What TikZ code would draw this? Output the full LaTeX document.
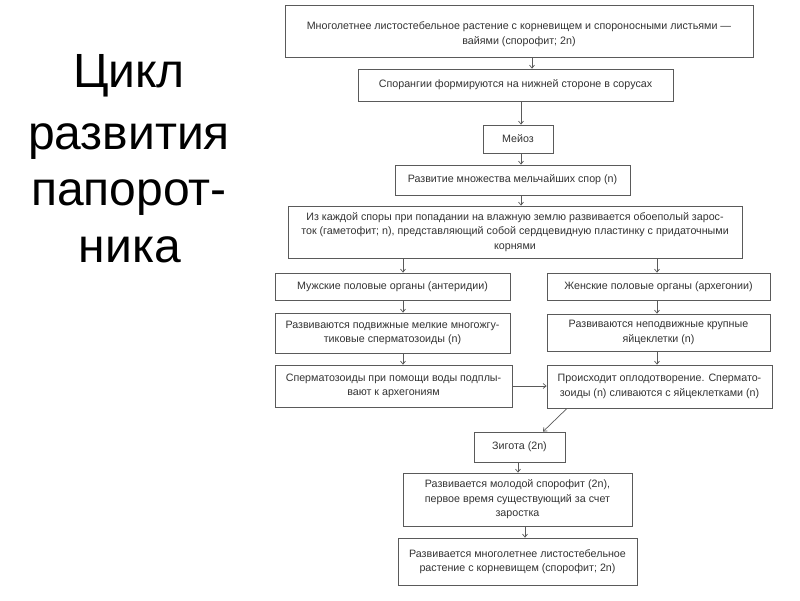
\documentclass[tikz,border=0pt]{standalone}
\usepackage{fontspec}
\setmainfont{Liberation Sans}
\usetikzlibrary{arrows.meta}
\definecolor{linegray}{HTML}{5A5A5A}
\definecolor{txtgray}{HTML}{333333}
\begin{document}
\begin{tikzpicture}[x=1pt,y=-1pt,
  box/.style={draw=linegray,line width=0.8pt,fill=white,inner sep=0pt,align=center,
    text=txtgray,font=\fontsize{10.7}{14.5}\selectfont},
  arr/.style={draw=linegray,line width=0.7pt,-{Straight Barb[length=3pt,width=5pt]}},
  title/.style={anchor=base,font=\fontsize{48}{58}\selectfont,text=black,inner sep=0pt}]
\fill[white] (0,0) rectangle (800,600);
\useasboundingbox (0,0) rectangle (800,600);
% title
\node[title] (t1) at (129,87) {Цикл};
\node[title] (t2) at (129,149) {развития};
\node[title] (t3) at (129,205) {папорот-};
\node[title] (t4) at (130,262) {ника};
% boxes
\node[box,minimum width=468,minimum height=52] (b1) at (519,31) {\rule{0pt}{14pt}Многолетнее листостебельное растение с корневищем и спороносными листьями —\\вайями (спорофит; 2n)};
\node[box,minimum width=315,minimum height=32] (b2) at (515.5,85) {Спорангии формируются на нижней стороне в сорусах};
\node[box,minimum width=70,minimum height=28] (b3) at (518,139) {Мейоз};
\node[box,minimum width=235,minimum height=30] (b4) at (512.5,180) {Развитие множества мельчайших спор (n)};
\node[box,minimum width=454,minimum height=52] (b5) at (515,232) {Из каждой споры при попадании на влажную землю развивается обоеполый зарос-\\ток (гаметофит; n), представляющий собой сердцевидную пластинку с придаточными\\корнями};
\node[box,minimum width=235,minimum height=27] (m1) at (392.5,286.5) {Мужские половые органы (антеридии)};
\node[box,minimum width=223,minimum height=27] (f1) at (658.5,286.5) {Женские половые органы (архегонии)};
\node[box,minimum width=235,minimum height=40] (m2) at (392.5,333) {Развиваются подвижные мелкие многожгу-\\тиковые сперматозоиды (n)};
\node[box,minimum width=223,minimum height=37] (f2) at (658.5,332.5) {Развиваются неподвижные крупные\\яйцеклетки (n)};
\node[box,minimum width=237,minimum height=42] (m3) at (393.5,386) {Сперматозоиды при помощи воды подплы-\\вают к архегониям};
\node[box,minimum width=225,minimum height=43] (f3) at (659.5,386.5) {Происходит оплодотворение. Спермато-\\зоиды (n) сливаются с яйцеклетками (n)};
\node[box,minimum width=91,minimum height=30] (z) at (519.5,447) {Зигота (2n)};
\node[box,minimum width=229,minimum height=53] (s1) at (517.5,499.5) {Развивается молодой спорофит (2n),\\первое время существующий за счет\\заростка};
\node[box,minimum width=239,minimum height=47] (s2) at (517.5,561.5) {Развивается многолетнее листостебельное\\растение с корневищем (спорофит; 2n)};
% connectors
\draw[arr] (b1.south -| 532,0) -- (b2.north -| 532,0);
\draw[arr] (b2.south -| 521,0) -- (b3.north -| 521,0);
\draw[arr] (b3.south -| 521,0) -- (b4.north -| 521,0);
\draw[arr] (b4.south -| 521,0) -- (b5.north -| 521,0);
\draw[arr] (b5.south -| 403,0) -- (m1.north -| 403,0);
\draw[arr] (b5.south -| 657,0) -- (f1.north -| 657,0);
\draw[arr] (m1.south -| 403,0) -- (m2.north -| 403,0);
\draw[arr] (f1.south -| 657,0) -- (f2.north -| 657,0);
\draw[arr] (m2.south -| 403,0) -- (m3.north -| 403,0);
\draw[arr] (f2.south -| 657,0) -- (f3.north -| 657,0);
\draw[arr] (m3.east |- 0,386) -- (f3.west |- 0,386);
\draw[arr] (f3.south -| 567,0) -- (z.north -| 543,0);
\draw[arr] (z.south -| 518,0) -- (s1.north -| 518,0);
\draw[arr] (s1.south -| 525,0) -- (s2.north -| 525,0);
\end{tikzpicture}
\end{document}
